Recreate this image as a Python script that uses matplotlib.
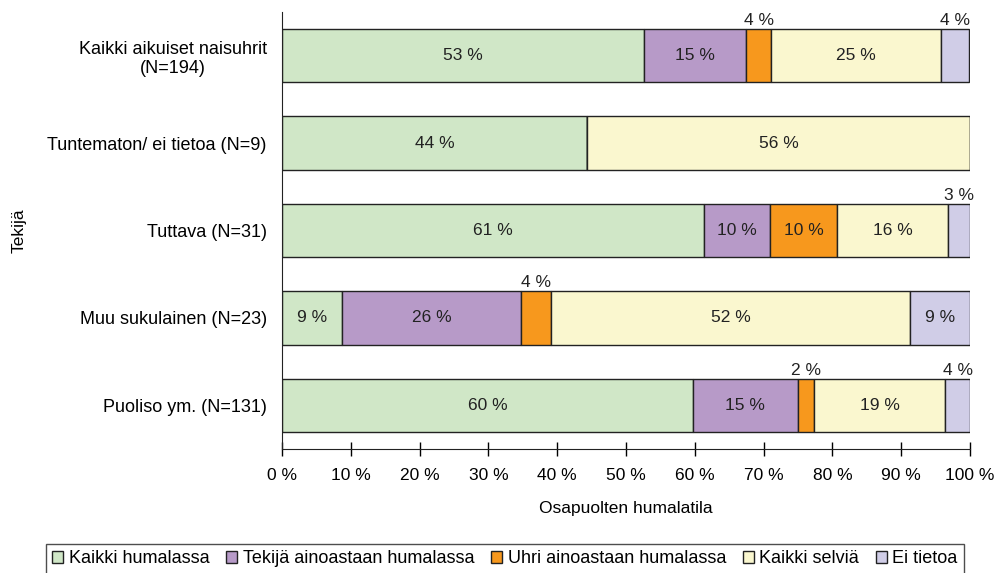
import numpy as np
import matplotlib.pyplot as plt

plt.rcParams['font.family'] = ['Liberation Sans', 'DejaVu Sans']

categories = ['Kaikki aikuiset naisuhrit\n(N=194)', 'Tuntematon/ ei tietoa (N=9)',
              'Tuttava (N=31)', 'Muu sukulainen (N=23)', 'Puoliso ym. (N=131)']
series = ['Kaikki humalassa', 'Tekijä ainoastaan humalassa', 'Uhri ainoastaan humalassa',
          'Kaikki selviä', 'Ei tietoa']
# percentages per category (rows) and series (cols)
kaikki_humalassa = [52.6, 44.4, 61.3, 8.7, 59.7]
tekija_humalassa = [14.9, 0.0, 9.7, 26.1, 15.3]
uhri_humalassa = [3.6, 0.0, 9.7, 4.3, 2.3]
kaikki_selvia = [24.7, 55.6, 16.1, 52.2, 19.1]
ei_tietoa = [4.1, 0.0, 3.2, 8.7, 3.6]
xticks = [0, 10, 20, 30, 40, 50, 60, 70, 80, 90, 100]

colors = ['#d0e7c7', '#b79ac8', '#f7981d', '#faf7cf', '#d0cde7']
data = [kaikki_humalassa, tekija_humalassa, uhri_humalassa, kaikki_selvia, ei_tietoa]
fs = 12.5

fig = plt.figure(figsize=(9.98, 5.73), dpi=100)
ax = fig.add_axes([282/998, 1-449/573, 688/998, 437/573])

y = np.arange(len(categories))
left = np.zeros(len(categories))
for vals, col, name in zip(data, colors, series):
    vals = np.array(vals)
    ax.barh(y, vals, left=left, height=0.61, color=col, edgecolor='#222222',
            linewidth=1.0, label=name)
    for i, v in enumerate(vals):
        if v <= 0:
            continue
        cx = left[i] + v / 2
        txt = '%d %%' % round(v)
        if v < 5:
            ax.text(cx, y[i] - 0.305 - 0.01, txt, ha='center', va='bottom', fontsize=fs, color='#222222')
        else:
            ax.text(cx, y[i], txt, ha='center', va='center', fontsize=fs, color='#222222')
    left += vals

ax.set_xlim(0, 100)
ax.set_ylim(4.5, -0.5)
ax.set_yticks(y)
ax.set_yticklabels(categories, fontsize=13, ha='right', multialignment='center')
ax.tick_params(axis='y', length=0, pad=11)
ax.set_xticks(xticks)
ax.set_xticklabels(['%d %%' % t for t in xticks], fontsize=fs)
ax.tick_params(axis='x', direction='inout', length=10, width=1, pad=9)
ax.spines['top'].set_visible(False)
ax.spines['right'].set_visible(False)
ax.spines['left'].set_color('#222222')
ax.spines['bottom'].set_color('#222222')
ax.set_xlabel('Osapuolten humalatila', fontsize=fs, labelpad=13)
ax.set_ylabel('Tekijä', fontsize=fs, labelpad=0)
ax.yaxis.set_label_coords(-255/688, 0.5)

leg = fig.legend(loc='upper center', bbox_to_anchor=(505/998, 1 - 544/573), ncol=5, fontsize=13,
                 frameon=True, fancybox=False, edgecolor='#222222', handlelength=0.6,
                 handleheight=0.6, handletextpad=0.3, columnspacing=0.95, borderpad=0.35,
                 borderaxespad=0)
leg.get_frame().set_linewidth(1.0)

fig.savefig('out.png', dpi=100)
